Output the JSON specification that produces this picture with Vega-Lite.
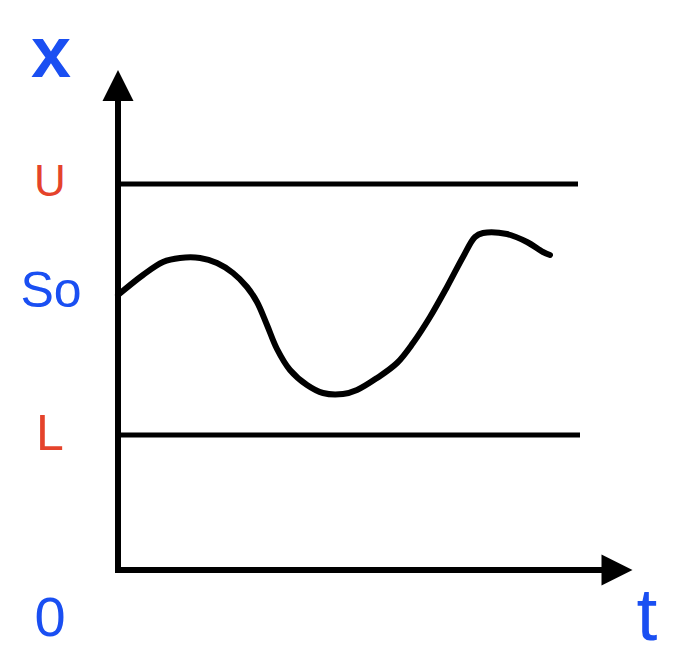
{
  "$schema": "https://vega.github.io/schema/vega-lite/v6.json",
  "width": 694,
  "height": 671,
  "padding": 0,
  "autosize": "none",
  "background": "white",
  "config": {"view": {"stroke": null}},
  "datasets": {
    "axes": [
      {"axis": "x", "t0": 0, "t1": 0, "y0": 0, "y1": 47},
      {"axis": "t", "t0": 0, "t1": 48.4, "y0": 0, "y1": 0}
    ],
    "arrows": [
      {"axis": "x", "t": 0, "y": 48.45},
      {"axis": "t", "t": 49.9, "y": 0}
    ],
    "bounds": [
      {"name": "U", "t0": 0, "t1": 46.0, "y": 38.6},
      {"name": "L", "t0": 0, "t1": 46.2, "y": 13.5}
    ],
    "path": [
      {"t": 0, "x": 27.5}, {"t": 2.5, "x": 29.5}, {"t": 4.5, "x": 30.8},
      {"t": 6.2, "x": 31.2}, {"t": 8.2, "x": 31.2}, {"t": 9.9, "x": 30.7}, {"t": 11.5, "x": 29.7},
      {"t": 12.9, "x": 28.3}, {"t": 13.9, "x": 26.8}, {"t": 14.9, "x": 24.5}, {"t": 15.9, "x": 22.1}, {"t": 17.2, "x": 20.0},
      {"t": 18.9, "x": 18.5}, {"t": 20.5, "x": 17.7}, {"t": 22.5, "x": 17.6}, {"t": 23.9, "x": 18.0},
      {"t": 25.9, "x": 19.2}, {"t": 27.9, "x": 20.7}, {"t": 29.5, "x": 22.7}, {"t": 31.2, "x": 25.3},
      {"t": 32.9, "x": 28.3}, {"t": 34.5, "x": 31.3}, {"t": 35.7, "x": 33.3}, {"t": 36.5, "x": 33.7},
      {"t": 38.9, "x": 33.6}, {"t": 40.9, "x": 32.8}, {"t": 42.5, "x": 31.8}, {"t": 43.2, "x": 31.5}
    ],
    "labels": [
      {"label": "x", "t": -6.7, "y": 49.3, "kind": "variable"},
      {"label": "U", "t": -6.8, "y": 37.4, "kind": "bound"},
      {"label": "So", "t": -6.7, "y": 26.3, "kind": "variable"},
      {"label": "L", "t": -6.8, "y": 12.0, "kind": "bound"},
      {"label": "0", "t": -6.8, "y": -6.6, "kind": "variable"},
      {"label": "t", "t": 52.9, "y": -7.0, "kind": "variable"}
    ]
  },
  "layer": [
    {
      "data": {"name": "bounds"},
      "mark": {"type": "rule", "color": "black", "strokeWidth": 5},
      "encoding": {
        "x": {"field": "t0", "type": "quantitative", "scale": {"domain": [-11.8, 57.6], "nice": false, "zero": false}, "axis": null},
        "x2": {"field": "t1"},
        "y": {"field": "y", "type": "quantitative", "scale": {"domain": [-10.1, 57.0], "nice": false, "zero": false}, "axis": null}
      }
    },
    {
      "data": {"name": "path"},
      "mark": {"type": "line", "color": "black", "strokeWidth": 6, "interpolate": "catmull-rom", "strokeCap": "round", "strokeJoin": "round"},
      "encoding": {
        "x": {"field": "t", "type": "quantitative", "scale": {"domain": [-11.8, 57.6], "nice": false, "zero": false}, "axis": null},
        "y": {"field": "x", "type": "quantitative", "scale": {"domain": [-10.1, 57.0], "nice": false, "zero": false}, "axis": null}
      }
    },
    {
      "data": {"name": "axes"},
      "mark": {"type": "rule", "color": "black", "strokeWidth": 6, "strokeCap": "square"},
      "encoding": {
        "x": {"field": "t0", "type": "quantitative", "scale": {"domain": [-11.8, 57.6], "nice": false, "zero": false}, "axis": null},
        "x2": {"field": "t1"},
        "y": {"field": "y0", "type": "quantitative", "scale": {"domain": [-10.1, 57.0], "nice": false, "zero": false}, "axis": null},
        "y2": {"field": "y1"}
      }
    },
    {
      "data": {"name": "arrows"},
      "transform": [{"filter": "datum.axis == 'x'"}],
      "mark": {"type": "point", "shape": "M0,-1L1,1L-1,1Z", "filled": true, "color": "black", "opacity": 1, "size": 961},
      "encoding": {
        "x": {"field": "t", "type": "quantitative", "scale": {"domain": [-11.8, 57.6], "nice": false, "zero": false}, "axis": null},
        "y": {"field": "y", "type": "quantitative", "scale": {"domain": [-10.1, 57.0], "nice": false, "zero": false}, "axis": null}
      }
    },
    {
      "data": {"name": "arrows"},
      "transform": [{"filter": "datum.axis == 't'"}],
      "mark": {"type": "point", "shape": "M1,0L-1,-1L-1,1Z", "filled": true, "color": "black", "opacity": 1, "size": 961},
      "encoding": {
        "x": {"field": "t", "type": "quantitative", "scale": {"domain": [-11.8, 57.6], "nice": false, "zero": false}, "axis": null},
        "y": {"field": "y", "type": "quantitative", "scale": {"domain": [-10.1, 57.0], "nice": false, "zero": false}, "axis": null}
      }
    },
    {
      "data": {"name": "labels"},
      "transform": [{"filter": "datum.label == 'x'"}],
      "mark": {"type": "text", "font": "Liberation Sans", "fontSize": 72, "fontWeight": "bold", "align": "center", "baseline": "alphabetic"},
      "encoding": {
        "x": {"field": "t", "type": "quantitative", "scale": {"domain": [-11.8, 57.6], "nice": false, "zero": false}, "axis": null},
        "y": {"field": "y", "type": "quantitative", "scale": {"domain": [-10.1, 57.0], "nice": false, "zero": false}, "axis": null},
        "text": {"field": "label"},
        "color": {"field": "kind", "type": "nominal", "scale": {"domain": ["variable", "bound"], "range": ["#1A4FF2", "#E5432B"]}, "legend": null}
      }
    },
    {
      "data": {"name": "labels"},
      "transform": [{"filter": "datum.label == 'U'"}],
      "mark": {"type": "text", "font": "Liberation Sans", "fontSize": 44, "align": "center", "baseline": "alphabetic"},
      "encoding": {
        "x": {"field": "t", "type": "quantitative", "scale": {"domain": [-11.8, 57.6], "nice": false, "zero": false}, "axis": null},
        "y": {"field": "y", "type": "quantitative", "scale": {"domain": [-10.1, 57.0], "nice": false, "zero": false}, "axis": null},
        "text": {"field": "label"},
        "color": {"field": "kind", "type": "nominal", "scale": {"domain": ["variable", "bound"], "range": ["#1A4FF2", "#E5432B"]}, "legend": null}
      }
    },
    {
      "data": {"name": "labels"},
      "transform": [{"filter": "datum.label == 'So' || datum.label == 'L'"}],
      "mark": {"type": "text", "font": "Liberation Sans", "fontSize": 50, "align": "center", "baseline": "alphabetic"},
      "encoding": {
        "x": {"field": "t", "type": "quantitative", "scale": {"domain": [-11.8, 57.6], "nice": false, "zero": false}, "axis": null},
        "y": {"field": "y", "type": "quantitative", "scale": {"domain": [-10.1, 57.0], "nice": false, "zero": false}, "axis": null},
        "text": {"field": "label"},
        "color": {"field": "kind", "type": "nominal", "scale": {"domain": ["variable", "bound"], "range": ["#1A4FF2", "#E5432B"]}, "legend": null}
      }
    },
    {
      "data": {"name": "labels"},
      "transform": [{"filter": "datum.label == '0'"}],
      "mark": {"type": "text", "font": "Liberation Sans", "fontSize": 56, "align": "center", "baseline": "alphabetic"},
      "encoding": {
        "x": {"field": "t", "type": "quantitative", "scale": {"domain": [-11.8, 57.6], "nice": false, "zero": false}, "axis": null},
        "y": {"field": "y", "type": "quantitative", "scale": {"domain": [-10.1, 57.0], "nice": false, "zero": false}, "axis": null},
        "text": {"field": "label"},
        "color": {"field": "kind", "type": "nominal", "scale": {"domain": ["variable", "bound"], "range": ["#1A4FF2", "#E5432B"]}, "legend": null}
      }
    },
    {
      "data": {"name": "labels"},
      "transform": [{"filter": "datum.label == 't'"}],
      "mark": {"type": "text", "font": "Liberation Sans", "fontSize": 75, "align": "center", "baseline": "alphabetic"},
      "encoding": {
        "x": {"field": "t", "type": "quantitative", "scale": {"domain": [-11.8, 57.6], "nice": false, "zero": false}, "axis": null},
        "y": {"field": "y", "type": "quantitative", "scale": {"domain": [-10.1, 57.0], "nice": false, "zero": false}, "axis": null},
        "text": {"field": "label"},
        "color": {"field": "kind", "type": "nominal", "scale": {"domain": ["variable", "bound"], "range": ["#1A4FF2", "#E5432B"]}, "legend": null}
      }
    }
  ]
}
